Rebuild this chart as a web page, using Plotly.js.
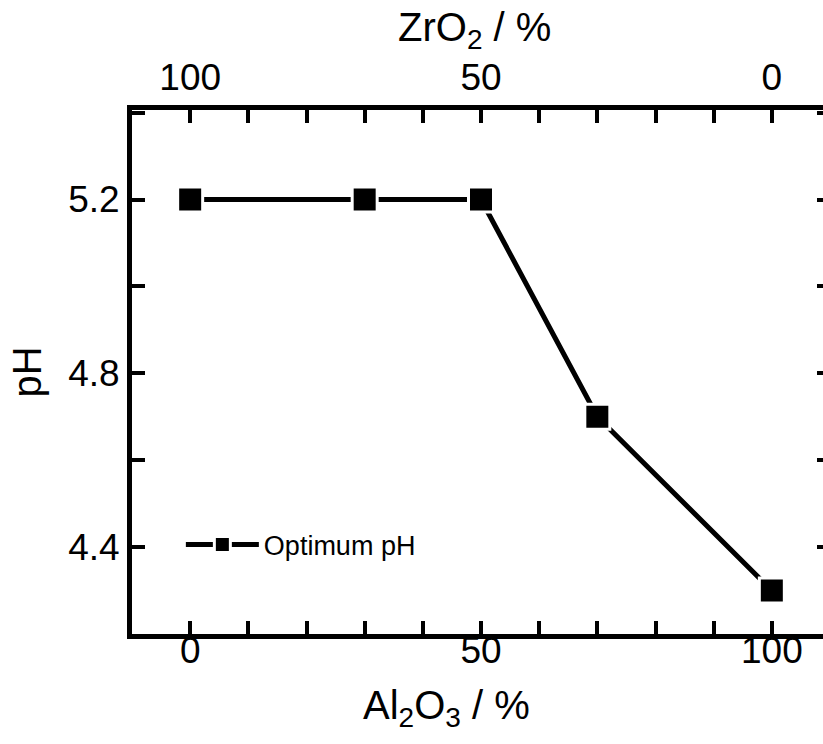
<!DOCTYPE html>
<html>
<head>
<meta charset="utf-8">
<script src="https://cdn.plot.ly/plotly-3.0.1.min.js"></script>
<style>
html, body { margin: 0; padding: 0; overflow: hidden; background: #fff; }
#chart { width: 840px; height: 744px; }
</style>
</head>
<body>
<div id="chart"></div>
<script>
// Data
const al2o3 = [0, 30, 50, 70, 100];          // Al2O3 / %
const optimumPH = [5.2, 5.2, 5.2, 4.7, 4.3];  // Optimum pH
const seriesName = 'Optimum pH';
const xTickVals = [0, 50, 100];
const zrTickVals = [100, 50, 0];
const yTickVals = [4.4, 4.8, 5.2];

const FONT = 'Liberation Sans, Arial, sans-serif';

const trace = {
  x: al2o3,
  y: optimumPH,
  name: seriesName,
  type: 'scatter',
  mode: 'lines+markers',
  line: { color: '#000', width: 5 },
  marker: { symbol: 'square', size: 25, color: '#000', line: { color: '#fff', width: 3 } },
  showlegend: true,
  cliponaxis: false
};

// invisible trace to activate the top (ZrO2) axis
const topTrace = {
  x: al2o3.map(v => 100 - v),
  y: optimumPH,
  xaxis: 'x2',
  type: 'scatter',
  mode: 'none',
  showlegend: false,
  hoverinfo: 'skip'
};

// invisible trace carrying the bottom tick labels (placed slightly closer to the frame)
const labelTrace = {
  x: al2o3,
  y: optimumPH,
  xaxis: 'x3',
  type: 'scatter',
  mode: 'none',
  showlegend: false,
  hoverinfo: 'skip'
};

const axisCommon = {
  showgrid: false,
  zeroline: false,
  showline: true,
  linecolor: '#000',
  linewidth: 5,
  ticks: 'inside',
  ticklen: 13,
  tickwidth: 4,
  tickcolor: '#000',
  tickfont: { family: FONT, size: 37, color: '#000' }
};

const layout = {
  width: 840,
  height: 744,
  margin: { l: 132, r: 10, t: 110, b: 110 },
  paper_bgcolor: '#fff',
  plot_bgcolor: '#fff',
  font: { family: FONT, color: '#000' },
  xaxis: Object.assign({}, axisCommon, {
    range: [-10, 110],
    tickvals: xTickVals,
    showticklabels: false,
    minor: { dtick: 10, ticks: 'inside', ticklen: 13, tickwidth: 4, tickcolor: '#000' },
    mirror: false
  }),
  xaxis3: {
    overlaying: 'x',
    anchor: 'free',
    position: 0.018,
    side: 'bottom',
    range: [-10, 110],
    tickvals: xTickVals,
    showgrid: false,
    zeroline: false,
    showline: false,
    ticks: '',
    tickfont: { family: FONT, size: 37, color: '#000' }
  },
  xaxis2: Object.assign({}, axisCommon, {
    overlaying: 'x',
    side: 'top',
    anchor: 'y',
    range: [110, -10],
    tickvals: zrTickVals,
    minor: { dtick: 10, ticks: 'inside', ticklen: 13, tickwidth: 4, tickcolor: '#000' }
  }),
  yaxis: Object.assign({}, axisCommon, {
    range: [4.2, 5.406],
    tickvals: yTickVals,
    tickformat: '.1f',
    minor: { dtick: 0.2, tick0: 4.2, ticks: 'inside', ticklen: 13, tickwidth: 4, tickcolor: '#000' },
    mirror: 'ticks',
    title: { text: 'pH', font: { family: FONT, size: 40, color: '#000' }, standoff: 16 }
  }),
  annotations: [
    {
      text: 'Al<sub>2</sub>O<sub>3</sub> / %',
      xref: 'paper', yref: 'paper',
      x: 0.451, y: -0.141,
      xanchor: 'center', yanchor: 'middle',
      showarrow: false,
      font: { family: FONT, size: 40, color: '#000' }
    },
    {
      text: 'ZrO<sub>2</sub> / %',
      xref: 'paper', yref: 'paper',
      x: 0.49, y: 1.153,
      xanchor: 'center', yanchor: 'middle',
      showarrow: false,
      font: { family: FONT, size: 40, color: '#000' }
    }
  ],
  legend: {
    x: 0.07, y: 0.17,
    xanchor: 'left', yanchor: 'middle',
    bgcolor: 'rgba(0,0,0,0)',
    borderwidth: 0,
    font: { family: FONT, size: 27, color: '#000' },
    itemwidth: 73
  }
};

Plotly.newPlot('chart', [trace, topTrace, labelTrace], layout, { staticPlot: true });
</script>
</body>
</html>
